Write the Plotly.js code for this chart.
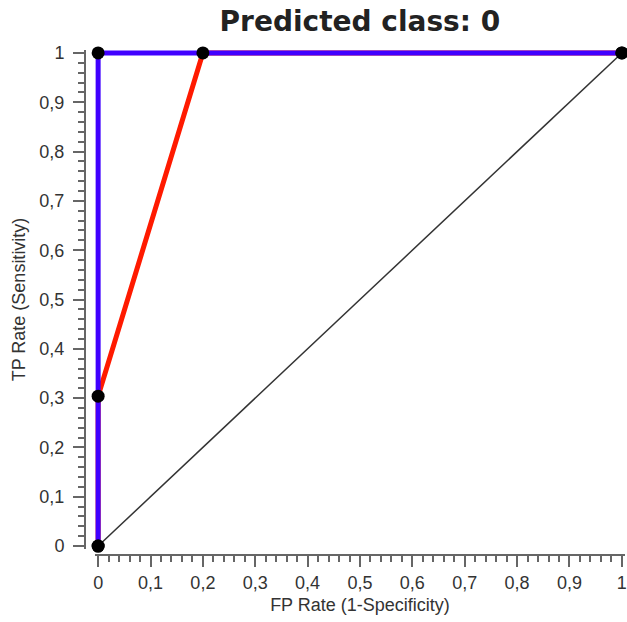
<!DOCTYPE html>
<html><head><meta charset="utf-8">
<script src="https://cdn.plot.ly/plotly-3.0.1.min.js"></script>
<style>html,body{margin:0;padding:0;background:#fff}#chart{width:627px;height:622px}</style>
</head><body><div id="chart"></div>
<script>
// ROC curve data
const redFpr = [0, 0, 0.2, 1];
const redTpr = [0, 0.304, 1, 1];
const blueFpr = [0, 0, 1];
const blueTpr = [0, 1, 1];
const diagFpr = [0, 1];
const diagTpr = [0, 1];
const tickVals = [0, 0.1, 0.2, 0.3, 0.4, 0.5, 0.6, 0.7, 0.8, 0.9, 1];
const tickText = ['0', '0,1', '0,2', '0,3', '0,4', '0,5', '0,6', '0,7', '0,8', '0,9', '1'];
const titleText = 'Predicted class: 0';
const xTitle = 'FP Rate (1-Specificity)';
const yTitle = 'TP Rate (Sensitivity)';

const axisColor = '#666';
const tickFont = {family: 'Liberation Sans, Arial, sans-serif', size: 18, color: '#333'};

const traces = [
  {x: diagFpr, y: diagTpr, mode: 'lines', line: {color: '#333', width: 1.5}, hoverinfo: 'skip'},
  {x: redFpr, y: redTpr, mode: 'lines', line: {color: '#ff1a00', width: 5}},
  {x: blueFpr, y: blueTpr, mode: 'lines', line: {color: '#4000ff', width: 5}},
  {x: redFpr, y: redTpr, mode: 'markers', marker: {color: '#000', size: 13}, cliponaxis: false},
  {x: blueFpr, y: blueTpr, mode: 'markers', marker: {color: '#000', size: 13}, cliponaxis: false}
];

const commonAxis = {
  range: [-0.006, 1.006],
  anchor: 'free',
  position: 0,
  showline: true,
  linecolor: axisColor,
  linewidth: 2,
  ticks: 'outside',
  ticklen: 11,
  tickwidth: 2,
  tickcolor: axisColor,
  tickmode: 'array',
  tickvals: tickVals,
  ticktext: tickText,
  tickfont: tickFont,
  showgrid: false,
  zeroline: false,
  automargin: false,
  fixedrange: true,
  minor: {tick0: 0, dtick: 0.02, ticks: 'outside', ticklen: 6, tickwidth: 2, tickcolor: axisColor, showgrid: false}
};

const layout = {
  width: 627,
  height: 622,
  margin: {l: 85, r: 2, t: 50, b: 67, pad: 0},
  showlegend: false,
  paper_bgcolor: '#fff',
  plot_bgcolor: '#fff',
  title: {
    text: '<b>' + titleText + '</b>',
    font: {family: 'DejaVu Sans, sans-serif', size: 28, color: '#222'},
    xref: 'container', x: 0.574, xanchor: 'center',
    yref: 'container', y: 0.966, yanchor: 'middle'
  },
  xaxis: Object.assign({}, commonAxis, {
    domain: [0.0185, 1],
    title: {text: xTitle, font: {family: 'Liberation Sans, Arial, sans-serif', size: 18, color: '#333'}, standoff: 6}
  }),
  yaxis: Object.assign({}, commonAxis, {
    domain: [0.0119, 1],
    ticklabelstandoff: 5,
    title: {text: yTitle, font: {family: 'Liberation Sans, Arial, sans-serif', size: 18, color: '#333'}, standoff: 8}
  })
};

Plotly.newPlot('chart', traces, layout, {displayModeBar: false, staticPlot: true});
</script>
</body></html>
